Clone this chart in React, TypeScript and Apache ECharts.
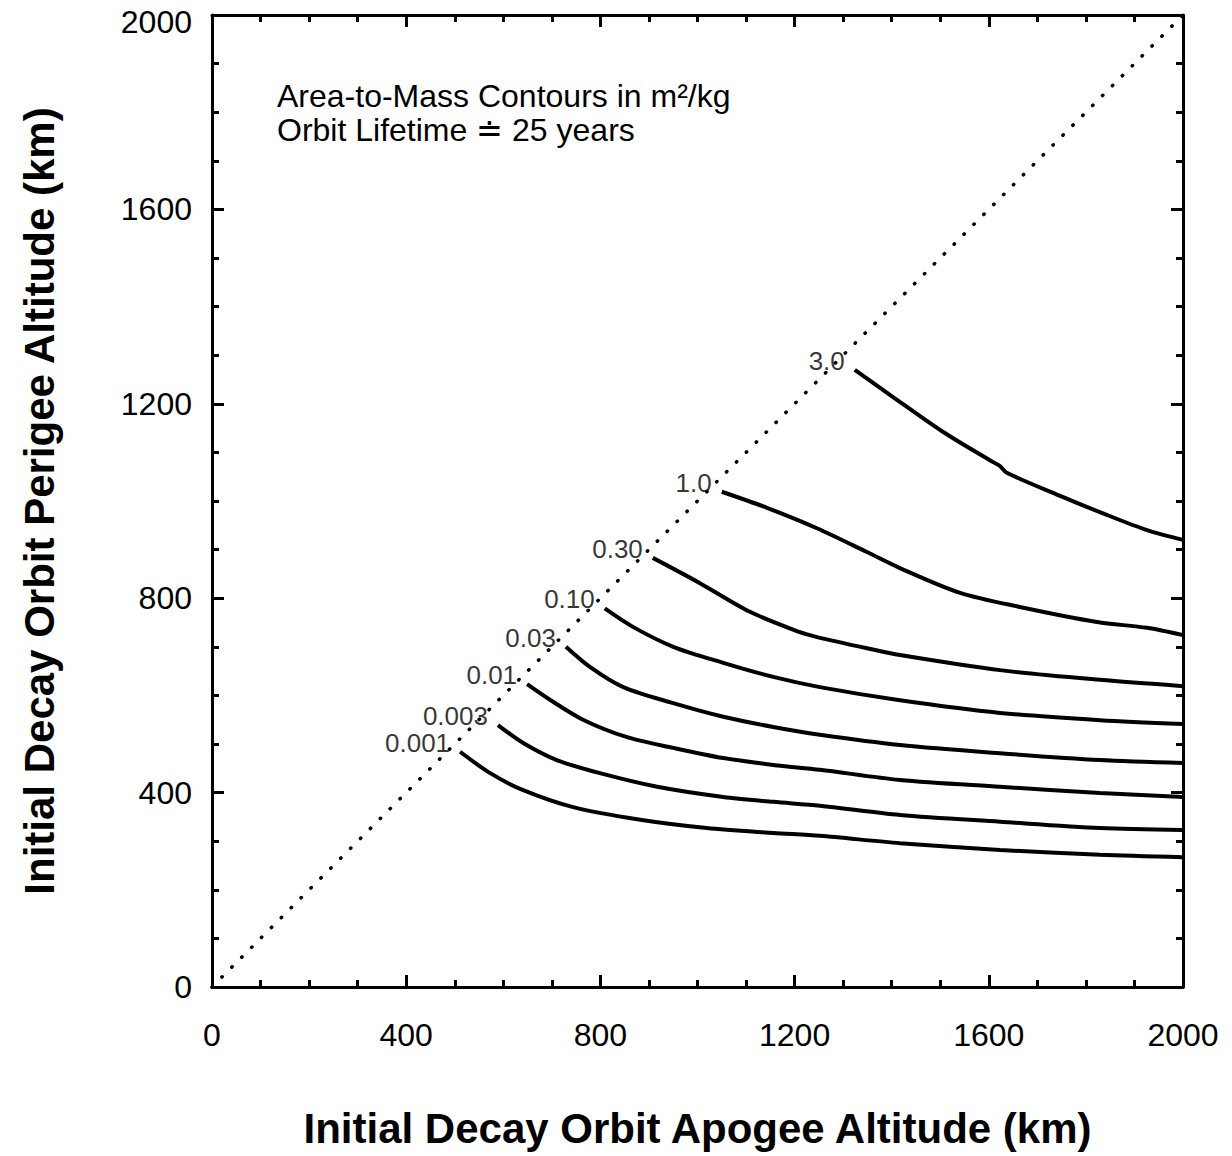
import React, { useEffect, useRef } from "react";
import * as echarts from "echarts";

const axisTicks = [0, 400, 800, 1200, 1600, 2000];
const contourLabels = ["3.0", "1.0", "0.30", "0.10", "0.03", "0.01", "0.003", "0.001"];

const c3_0 = [[1324, 1270], [1397, 1218], [1506, 1142], [1609, 1080], [1623, 1072], [1637, 1058], [1753, 1008], [1829, 977], [1926, 940], [2000, 920]];
const c1_0 = [[1050, 1019], [1143, 986], [1246, 944], [1349, 895], [1417, 862], [1541, 811], [1664, 782], [1823, 751], [1926, 739], [2000, 724]];
const c0_30 = [[908, 883], [1005, 831], [1108, 772], [1211, 730], [1246, 720], [1349, 697], [1417, 683], [1623, 652], [1829, 632], [2000, 619]];
const c0_10 = [[809, 779], [867, 741], [950, 700], [1053, 667], [1156, 638], [1252, 617], [1417, 590], [1623, 564], [1829, 549], [2000, 541]];
const c0_03 = [[729, 700], [779, 658], [847, 617], [950, 584], [1053, 556], [1156, 535], [1252, 519], [1417, 498], [1623, 481], [1829, 467], [2000, 461]];
const c0_01 = [[649, 623], [696, 591], [764, 550], [855, 514], [950, 492], [1053, 471], [1156, 457], [1252, 447], [1417, 426], [1623, 412], [1829, 399], [2000, 391]];
const c0_003 = [[589, 539], [641, 502], [710, 467], [799, 440], [917, 412], [1053, 391], [1156, 381], [1252, 373], [1417, 354], [1623, 340], [1829, 327], [2000, 323]];
const c0_001 = [[511, 484], [573, 440], [641, 405], [744, 370], [882, 344], [1019, 327], [1156, 317], [1252, 311], [1417, 296], [1623, 282], [1829, 272], [2000, 267]];

const curves = [c3_0, c1_0, c0_30, c0_10, c0_03, c0_01, c0_003, c0_001];
const diagonal = [[0, 0], [2000, 2000]];

const FONT = "'Liberation Sans', Arial, Helvetica, sans-serif";

function baseAxis(position: string) {
  return {
    type: "value",
    min: axisTicks[0],
    max: axisTicks[axisTicks.length - 1],
    interval: axisTicks[1] - axisTicks[0],
    position,
    axisLine: { show: true, onZero: false, lineStyle: { color: "#000", width: 3 } },
    axisTick: { show: true, inside: true, length: 12, lineStyle: { color: "#000", width: 3 } },
    minorTick: { show: true, splitNumber: 4, length: 7, lineStyle: { color: "#000", width: 3 } },
    splitLine: { show: false },
    minorSplitLine: { show: false },
  };
}

function makeX(position: string, showLabel: boolean) {
  return {
    ...baseAxis(position),
    axisLabel: {
      show: showLabel,
      color: "#000",
      fontSize: 32,
      fontFamily: FONT,
      margin: 32,
      formatter: (v: number) => String(v),
    },
    name: showLabel ? "Initial Decay Orbit Apogee Altitude (km)" : "",
    nameLocation: "middle",
    nameGap: 120,
    nameTextStyle: { color: "#000", fontSize: 42, fontWeight: "bold", fontFamily: FONT },
  };
}

function makeY(position: string, showLabel: boolean) {
  const maxTick = axisTicks[axisTicks.length - 1];
  return {
    ...baseAxis(position),
    axisLabel: {
      show: showLabel,
      color: "#000",
      fontSize: 32,
      fontFamily: FONT,
      margin: 20,
      formatter: (v: number) => (v === maxTick ? `{top|${v}}` : String(v)),
      rich: {
        top: { fontSize: 32, fontFamily: FONT, color: "#000", padding: [14, 0, 0, 0] },
      },
    },
    name: showLabel ? "Initial Decay Orbit Perigee Altitude (km)" : "",
    nameLocation: "middle",
    nameGap: 152,
    nameTextStyle: { color: "#000", fontSize: 42, fontWeight: "bold", fontFamily: FONT },
  };
}

export default function App() {
  const ref = useRef<HTMLDivElement>(null);
  useEffect(() => {
    document.body.style.margin = "0";
    if (!ref.current) return;
    const chart = echarts.init(ref.current, undefined, { renderer: "svg" });
    const series: any[] = [
      {
        type: "line",
        data: diagonal,
        xAxisIndex: 0,
        yAxisIndex: 0,
        symbol: "none",
        lineStyle: { color: "#000", width: 3.5, type: [0.5, 13.5], cap: "round" },
        silent: true,
      },
      ...curves.map((c, i) => ({
        type: "line",
        name: contourLabels[i],
        data: c,
        xAxisIndex: 0,
        yAxisIndex: 0,
        symbol: "none",
        smooth: 0.3,
        lineStyle: { color: "#000", width: 4 },
        silent: true,
      })),
      {
        type: "scatter",
        data: curves.map((c) => c[0]),
        xAxisIndex: 0,
        yAxisIndex: 0,
        symbolSize: 0,
        silent: true,
        label: {
          show: true,
          position: "left",
          distance: 10,
          offset: [0, -9],
          color: "#000",
          fontSize: 26,
          fontFamily: FONT,
          formatter: (p: any) => contourLabels[p.dataIndex],
        },
      },
    ];
    chart.setOption({
      animation: false,
      backgroundColor: "#fff",
      grid: { left: 212, right: 49, top: 15, bottom: 169, containLabel: false },
      xAxis: [makeX("bottom", true), makeX("top", false)],
      yAxis: [makeY("left", true), makeY("right", false)],
      series,
      graphic: [
        {
          type: "text",
          left: 277,
          top: 80,
          style: {
            text: "Area-to-Mass Contours in m²/kg",
            fill: "#000",
            fontSize: 32,
            fontFamily: FONT,
          },
        },
        {
          type: "text",
          left: 277,
          top: 114,
          style: {
            text: "Orbit Lifetime ≐ 25 years",
            fill: "#000",
            fontSize: 32,
            fontFamily: FONT,
          },
        },
      ],
    });
    return () => chart.dispose();
  }, []);
  return <div ref={ref} style={{ width: 1232, height: 1156 }} />;
}
